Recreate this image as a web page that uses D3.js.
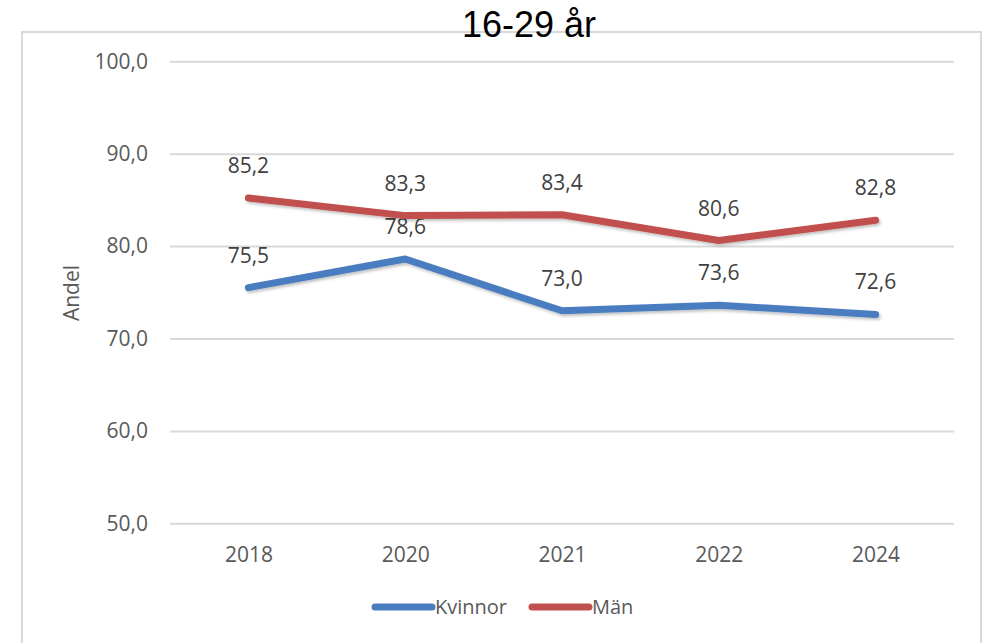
<!DOCTYPE html>
<html>
<head>
<meta charset="utf-8">
<script src="https://cdn.jsdelivr.net/npm/d3@7"></script>
<style>
  body { margin: 0; background: #fff; }
  text { font-family: "Open Sans", sans-serif; }
</style>
</head>
<body>
<script>
const width = 983, height = 643;
const years = ["2018", "2020", "2021", "2022", "2024"];
const kvinnor = [75.5, 78.6, 73.0, 73.6, 72.6];
const man = [85.2, 83.3, 83.4, 80.6, 82.8];
const yTicks = [50, 60, 70, 80, 90, 100];
const seriesNames = ["Kvinnor", "Män"];
const colors = ["#4a7dbf", "#c0504d"];

const fmt = v => d3.format(".1f")(v).replace(".", ",");

const svg = d3.select("body").append("svg")
    .attr("width", width)
    .attr("height", height);

// chart frame
svg.append("rect")
    .attr("x", 22).attr("y", 32)
    .attr("width", 959).attr("height", 640)
    .attr("fill", "none")
    .attr("stroke", "#d9d9d9")
    .attr("stroke-width", 2);

const x = d3.scalePoint()
    .domain(years)
    .range([170, 954])
    .padding(0.5);

const y = d3.scaleLinear()
    .domain([50, 100])
    .range([523.3, 61.3]);

// gridlines + y labels
svg.append("g")
    .attr("transform", "translate(170,0)")
    .call(d3.axisLeft(y)
        .tickValues(yTicks)
        .tickSize(-784)
        .tickPadding(22)
        .tickFormat(fmt))
    .call(g => g.select(".domain").remove())
    .call(g => g.selectAll("line").attr("stroke", "#d9d9d9").attr("stroke-width", 2))
    .call(g => g.selectAll("text")
        .attr("fill", "#595959")
        .style("font-size", "21px"));

// x labels
svg.append("g")
    .attr("transform", "translate(0,523.3)")
    .call(d3.axisBottom(x).tickSize(0).tickPadding(24))
    .call(g => g.select(".domain").remove())
    .call(g => g.selectAll("text")
        .attr("fill", "#595959")
        .style("font-size", "21px"));

// axis title
svg.append("text")
    .attr("transform", "translate(79,293) rotate(-90)")
    .attr("text-anchor", "middle")
    .attr("fill", "#595959")
    .style("font-size", "21px")
    .text("Andel");

// title
svg.append("text")
    .attr("x", 529).attr("y", 37)
    .attr("text-anchor", "middle")
    .attr("fill", "#000")
    .style("font-family", "'Liberation Sans', Arial, sans-serif")
    .style("font-size", "36px")
    .text("16-29 år");

const defs = svg.append("defs");
const filter = defs.append("filter").attr("id", "shadow")
    .attr("x", "-5%").attr("y", "-20%").attr("width", "110%").attr("height", "160%");
filter.append("feDropShadow")
    .attr("dx", 1.5).attr("dy", 2)
    .attr("stdDeviation", 1.5)
    .attr("flood-color", "#000")
    .attr("flood-opacity", 0.25);

const line = d3.line()
    .x((d, i) => x(years[i]))
    .y(d => y(d));

const allSeries = [kvinnor, man];

allSeries.forEach((vals, si) => {
    svg.append("path")
        .datum(vals)
        .attr("d", line)
        .attr("fill", "none")
        .attr("stroke", colors[si])
        .attr("stroke-width", 7)
        .attr("stroke-linecap", "round")
        .attr("stroke-linejoin", "round")
        .attr("filter", "url(#shadow)");

    svg.selectAll(".lbl" + si)
        .data(vals)
        .enter()
        .append("text")
        .attr("x", (d, i) => x(years[i]))
        .attr("y", d => y(d) - 25)
        .attr("text-anchor", "middle")
        .attr("fill", "#404040")
        .style("font-size", "21px")
        .text(d => fmt(d));
});

// legend
const legend = svg.append("g");
const legendX = [375, 532];
seriesNames.forEach((name, i) => {
    legend.append("line")
        .attr("x1", legendX[i]).attr("x2", legendX[i] + 57)
        .attr("y1", 607).attr("y2", 607)
        .attr("stroke", colors[i])
        .attr("stroke-width", 7)
        .attr("stroke-linecap", "round");
    legend.append("text")
        .attr("x", legendX[i] + 60).attr("y", 614)
        .attr("fill", "#595959")
        .style("font-size", "20px")
        .text(name);
});
</script>
</body>
</html>
